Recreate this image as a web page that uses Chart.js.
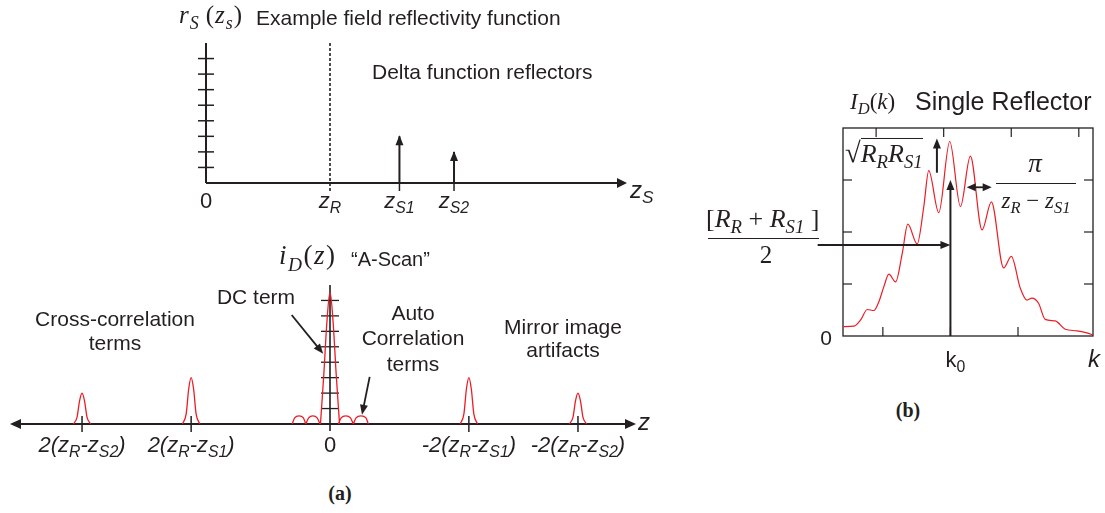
<!DOCTYPE html>
<html>
<head>
<meta charset="utf-8">
<script src="https://cdn.jsdelivr.net/npm/chart.js@4.4.1/dist/chart.umd.min.js"></script>
<style>
  body { margin:0; background:#fff; }
  #page { position:relative; width:1105px; height:513px; overflow:hidden; color:#231f20;
          font-family:"Liberation Sans", Arial, sans-serif; }
  #page canvas { position:absolute; }
  .t { position:absolute; white-space:nowrap; line-height:1; }
  .it { font-style:italic; }
  .mt { font-family:"Liberation Serif", "Times New Roman", serif; font-style:italic; }
  .up { font-style:normal; }
  .t sub { font-size:0.72em; vertical-align:-0.32em; line-height:0; }
  .cap { font-family:"Liberation Serif", serif; font-weight:bold; }
  .bar { position:absolute; height:0; border-top:1.3px solid #231f20; }
</style>
</head>
<body>
<div id="page">
  <canvas id="cA" width="520" height="215" style="left:150px;top:0"></canvas>
  <canvas id="cB" width="660" height="180" style="left:0;top:270px"></canvas>
  <canvas id="cC" width="305" height="245" style="left:800px;top:110px"></canvas>
</div>
<script>
// ---- (a) top : field reflectivity, delta reflectors (z_R = 1)
const refZ = 1.0;
const reflPos = [1.56, 2.0];      // z_S1, z_S2
const reflAmp = [3, 2];
const rTicks = [1, 2, 3, 4, 5, 6, 7, 8];
const topTickVals = [0, 1.0, 1.56, 2.0];
const topTickLabels = ['<span class="up">0</span>', 'z<sub>R</sub>', 'z<sub>S1</sub>', 'z<sub>S2</sub>'];

// ---- (a) bottom : A-scan i_D(z), null = break in the trace
const aScanX = [-2.07, -2.04, -2.02, -2, -1.98, -1.96, -1.93, null,
                -1.19, -1.16, -1.14, -1.12, -1.10, -1.08, -1.05, null,
                -0.305, -0.285, -0.25, -0.215, -0.195, null,
                -0.195, -0.172, -0.138, -0.104, -0.08, null,
                -0.077, -0.05, -0.025, 0, 0.025, 0.05, 0.077, null,
                0.067, 0.09, 0.127, 0.165, 0.188, null,
                0.188, 0.21, 0.25, 0.29, 0.309, null,
                1.05, 1.08, 1.10, 1.12, 1.14, 1.16, 1.19, null,
                1.93, 1.96, 1.98, 2, 2.02, 2.04, 2.07];
const aScanY = [0, 0.45, 1.5, 2, 1.5, 0.45, 0, null,
                0, 0.65, 2.25, 3, 2.25, 0.65, 0, null,
                0, 0.4, 0.52, 0.4, 0, null,
                0, 0.4, 0.52, 0.4, 0, null,
                0, 3.2, 6.6, 8.55, 6.6, 3.2, 0, null,
                0, 0.4, 0.52, 0.4, 0, null,
                0, 0.4, 0.52, 0.4, 0, null,
                0, 0.65, 2.25, 3, 2.25, 0.65, 0, null,
                0, 0.45, 1.5, 2, 1.5, 0.45, 0];
const aTicksY = [1, 2, 3, 4, 5, 6, 7, 8];
const aTickVals = [-2, -1.12, 0, 1.12, 2];
const aTickLabels = ['2(z<sub>R</sub>-z<sub>S2</sub>)', '2(z<sub>R</sub>-z<sub>S1</sub>)', '<span class="up">0</span>',
                     '-2(z<sub>R</sub>-z<sub>S1</sub>)', '-2(z<sub>R</sub>-z<sub>S2</sub>)'];

// ---- (b) : spectral interferogram I_D(k), k0 = 0
const kVals = [-1.585, -1.428, -1.329, -1.23, -1.133, -1.059, -0.985, -0.911, -0.812, -0.713,
               -0.631, -0.492, -0.394, -0.321, -0.173, -0.01, 0.148, 0.295, 0.468, 0.606,
               0.787, 0.901, 1.034, 1.133, 1.207, 1.304, 1.403, 1.551, 1.699, 1.871, 2.019, 2.11];
const idVals = [0.18, 0.19, 0.31, 0.51, 0.49, 0.66, 0.95, 1.19, 1.04, 1.59,
                2.15, 1.77, 2.49, 3.18, 2.37, 3.74, 2.49, 3.46, 2.04, 2.58,
                1.31, 1.53, 0.92, 0.69, 0.73, 0.63, 0.32, 0.29, 0.13, 0.10, 0.06, 0.02];
const kTicksBottom = [-1, 0, 1];
const kTicksTop = [-1.1, -0.1, 0.9, 1.9];
const iTicks = [1, 2, 3];

const INK = '#231f20', RED = '#ed1c24';

function line(ctx, x1, y1, x2, y2, w, dash) {
  ctx.save();
  ctx.strokeStyle = INK; ctx.lineWidth = w;
  if (dash) ctx.setLineDash(dash);
  ctx.beginPath(); ctx.moveTo(x1, y1); ctx.lineTo(x2, y2); ctx.stroke();
  ctx.restore();
}
function head(ctx, x1, y1, x2, y2, len, half) {
  const a = Math.atan2(y2 - y1, x2 - x1), c = Math.cos(a), s = Math.sin(a);
  ctx.save();
  ctx.fillStyle = INK;
  ctx.beginPath();
  ctx.moveTo(x2, y2);
  ctx.lineTo(x2 - len * c - half * s, y2 - len * s + half * c);
  ctx.lineTo(x2 - len * c + half * s, y2 - len * s - half * c);
  ctx.closePath(); ctx.fill();
  ctx.restore();
}
function arrow(ctx, x1, y1, x2, y2, w, len, half) {
  const a = Math.atan2(y2 - y1, x2 - x1);
  line(ctx, x1, y1, x2 - len * 0.6 * Math.cos(a), y2 - len * 0.6 * Math.sin(a), w);
  head(ctx, x1, y1, x2, y2, len, half);
}

function baseOpts(pad, xr, yr) {
  return {
    responsive: false, animation: false, events: [],
    layout: { padding: pad },
    plugins: { legend: { display: false }, tooltip: { enabled: false } },
    scales: {
      x: { type: 'linear', min: xr[0], max: xr[1], display: false },
      y: { type: 'linear', min: yr[0], max: yr[1], display: false }
    }
  };
}

// ---------- chart A
const stemPts = [];
reflPos.forEach((p, i) => { stemPts.push({ x: p, y: 0 }, { x: p, y: reflAmp[i] }, { x: p, y: null }); });

const chartA = new Chart(document.getElementById('cA'), {
  type: 'line',
  data: { datasets: [{ data: stemPts, borderColor: INK, borderWidth: 2, pointRadius: 0, tension: 0, spanGaps: false }] },
  options: baseOpts({ left: 56, right: 43, top: 43, bottom: 32 }, [0, 3.395], [0, 9]),
  plugins: [{
    id: 'axesA',
    beforeDatasetsDraw(ch) {
      const { ctx, scales: { x, y } } = ch;
      const x0 = x.getPixelForValue(0), y0 = y.getPixelForValue(0), yt = y.getPixelForValue(9);
      line(ctx, x0, y0, x0, yt, 2);
      rTicks.forEach(v => { const py = y.getPixelForValue(v); line(ctx, x0 - 8, py, x0 + 8, py, 1.5); });
      const xr = x.getPixelForValue(refZ);
      line(ctx, xr, y0 + 8, xr, yt, 1.6, [3, 2]);
      reflPos.forEach(p => { const px = x.getPixelForValue(p); line(ctx, px, y0, px, y0 + 8, 1.5); });
      arrow(ctx, x0, y0, x.getPixelForValue(x.max), y0, 2, 10, 5);
    },
    afterDatasetsDraw(ch) {
      const { ctx, scales: { x, y } } = ch;
      reflPos.forEach((p, i) => {
        const px = x.getPixelForValue(p);
        head(ctx, px, y.getPixelForValue(0), px, y.getPixelForValue(reflAmp[i]) - 1, 10, 4);
      });
    }
  }]
});

// ---------- chart B
const chartB = new Chart(document.getElementById('cB'), {
  type: 'line',
  data: { datasets: [{
    data: aScanX.map((v, i) => ({ x: v, y: aScanY[i] })),
    borderColor: RED, borderWidth: 1.3, pointRadius: 0, spanGaps: false, cubicInterpolationMode: 'monotone'
  }] },
  options: baseOpts({ left: 10, right: 24, top: 15, bottom: 26 }, [-2.581, 2.468], [0, 9]),
  plugins: [{
    id: 'axesB',
    beforeDatasetsDraw(ch) {
      const { ctx, scales: { x, y } } = ch;
      const x0 = x.getPixelForValue(0), y0 = y.getPixelForValue(0);
      line(ctx, x0, y0 + 7, x0, y.getPixelForValue(9), 1.6);
      aTicksY.forEach(v => { const py = y.getPixelForValue(v); line(ctx, x0 - 9, py, x0 + 9, py, 1.3); });
      aTickVals.forEach(v => { if (v !== 0) { const px = x.getPixelForValue(v); line(ctx, px, y0 - 8, px, y0 + 8, 1.5); } });
      const xl = x.getPixelForValue(x.min), xr = x.getPixelForValue(x.max);
      line(ctx, xl + 6, y0, xr - 6, y0, 2);
      head(ctx, xr - 20, y0, xr, y0, 11, 5);
      head(ctx, xl + 20, y0, xl, y0, 11, 5);
    },
    afterDatasetsDraw(ch) {
      const { ctx, scales: { x, y } } = ch;
      arrow(ctx, x.getPixelForValue(-0.309), y.getPixelForValue(7.06), x.getPixelForValue(-0.055), y.getPixelForValue(4.55), 1.8, 10, 4);
      arrow(ctx, x.getPixelForValue(0.32), y.getPixelForValue(3.05), x.getPixelForValue(0.258), y.getPixelForValue(0.6), 1.8, 10, 4);
    }
  }]
});

// ---------- chart C
const chartC = new Chart(document.getElementById('cC'), {
  type: 'line',
  data: { datasets: [{
    data: kVals.map((v, i) => ({ x: v, y: idVals[i] })),
    borderColor: RED, borderWidth: 1.2, pointRadius: 0, cubicInterpolationMode: 'monotone'
  }] },
  options: baseOpts({ left: 43, right: 12, top: 18, bottom: 19 }, [-1.59, 2.11], [0, 4]),
  plugins: [{
    id: 'boxC',
    beforeDatasetsDraw(ch) {
      const { ctx, chartArea: a, scales: { x, y } } = ch;
      ctx.save(); ctx.strokeStyle = INK; ctx.lineWidth = 1.3;
      ctx.strokeRect(a.left, a.top, a.right - a.left, a.bottom - a.top);
      ctx.restore();
      iTicks.forEach(v => {
        const py = y.getPixelForValue(v);
        line(ctx, a.left, py, a.left + 9, py, 1.2);
        line(ctx, a.right - 9, py, a.right, py, 1.2);
      });
      kTicksBottom.forEach(v => { const px = x.getPixelForValue(v); line(ctx, px, a.bottom, px, a.bottom - 9, 1.2); });
      kTicksTop.forEach(v => { const px = x.getPixelForValue(v); line(ctx, px, a.top, px, a.top + 9, 1.2); });
    },
    afterDatasetsDraw(ch) {
      const { ctx, scales: { x, y } } = ch;
      const xk = x.getPixelForValue(0);
      arrow(ctx, xk, y.getPixelForValue(0), xk, y.getPixelForValue(3.0), 2, 10, 4);
      arrow(ctx, x.getPixelForValue(-1.965), y.getPixelForValue(1.75), xk, y.getPixelForValue(1.75), 1.8, 10, 4);
      const xu = x.getPixelForValue(-0.2);
      arrow(ctx, xu, y.getPixelForValue(3.14), xu, y.getPixelForValue(3.8), 2, 10, 4);
      const xa = x.getPixelForValue(0.241), xb = x.getPixelForValue(0.611), yd = y.getPixelForValue(2.86);
      line(ctx, xa + 5, yd, xb - 5, yd, 1.8);
      head(ctx, xb, yd, xa, yd, 9, 4);
      head(ctx, xa, yd, xb, yd, 9, 4);
    }
  }]
});

// ---------- text
const page = document.getElementById('page');
function put(html, x, y, cls, size, align, extra) {
  const d = document.createElement('div');
  d.className = 't ' + cls;
  d.style.fontSize = size + 'px';
  if (extra) d.style.cssText += extra;
  d.innerHTML = html;
  d.style.left = x + 'px';
  d.style.top = y + 'px';
  const dx = align === 'c' ? '-50%' : align === 'r' ? '-100%' : '0';
  d.style.transform = 'translate(' + dx + ',-84%)';
  page.appendChild(d);
}
function bar(x1, x2, y) {
  const d = document.createElement('div');
  d.className = 'bar';
  d.style.left = x1 + 'px'; d.style.top = y + 'px'; d.style.width = (x2 - x1) + 'px';
  page.appendChild(d);
}
function xPage(ch, v) { return ch.canvas.offsetLeft + ch.scales.x.getPixelForValue(v); }
function yPage(ch, v) { return ch.canvas.offsetTop + ch.scales.y.getPixelForValue(v); }

// (a) top
put('r<sub>S</sub>&#8201;<span class="up">(</span>z<sub>s</sub><span class="up">)</span>', 179, 23, 'mt', 25, 'l', 'letter-spacing:1px');
put('Example field reflectivity function', 256, 24.5, '', 21, 'l');
put('Delta function reflectors', 372, 79, '', 21, 'l');
put('z<sub>S</sub>', 630, 198, 'it', 24, 'l');
topTickVals.forEach((v, i) => put(topTickLabels[i], xPage(chartA, v), 208, 'it', 22, 'c'));

// (a) bottom
put('i<sub>D</sub><span class="up">(</span>z<span class="up">)</span>', 279, 265, 'mt', 27, 'l', 'letter-spacing:1.5px');
put('\u201CA-Scan\u201D', 351, 266, '', 20, 'l');
put('DC term', 256, 304, '', 21, 'c');
put('Cross-correlation', 115, 326, '', 21, 'c');
put('terms', 115, 350, '', 21, 'c');
put('Auto', 413, 320, '', 21, 'c');
put('Correlation', 413, 345, '', 21, 'c');
put('terms', 413, 371, '', 21, 'c');
put('Mirror image', 563, 334, '', 21, 'c');
put('artifacts', 563, 357, '', 21, 'c');
aTickVals.forEach((v, i) => put(aTickLabels[i], xPage(chartB, v), 452, 'it', 22, 'c'));
put('z', 638, 430, 'it', 24, 'l');
put('(a)', 340, 500, 'cap', 20, 'c');

// (b)
put('I<sub>D</sub><span class="up">(</span>k<span class="up">)</span>', 850, 109, 'mt', 23, 'l');
put('Single Reflector', 915, 110, '', 25, 'l');
put('0', xPage(chartC, -1.59) - 11, yPage(chartC, 0) + 9, '', 21, 'r');
put('k<sub>0</sub>', xPage(chartC, 0) + 5, 367, '', 22, 'c');
put('k', 1088, 367, 'it', 24, 'l');
put('(b)', 908, 417, 'cap', 20, 'c');
put('<span class="up" style="font-size:1.1em">\u221A</span><span style="border-top:1.3px solid #231f20">R<sub>R</sub>R<sub>S1</sub></span>', 845, 163, 'mt', 26, 'l');
put('\u03C0', 1035, 173, 'mt', 27, 'c');
bar(996, 1076, 182.5);
put('z<sub>R</sub> <span class="up">\u2212</span> z<sub>S1</sub>', 1036, 208, 'mt', 23, 'c');
put('<span class="up">[</span>R<sub>R</sub> <span class="up">+</span> R<sub>S1</sub> <span class="up">]</span>', 706, 228, 'mt', 26, 'l');
bar(708, 819, 237.5);
put('<span class="up">2</span>', 766, 263, 'mt', 25, 'c');
</script>
</body>
</html>
